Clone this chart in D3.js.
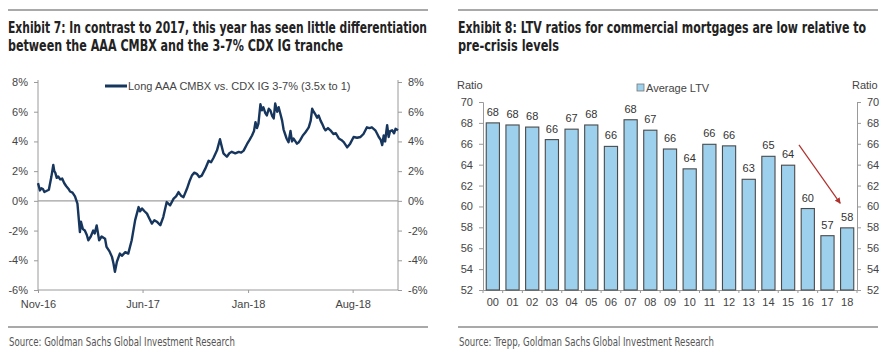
<!DOCTYPE html>
<html>
<head>
<meta charset="utf-8">
<script src="https://cdn.jsdelivr.net/npm/d3@7"></script>
<style>
  body { margin:0; background:#fff; }
  svg text { font-family: "Liberation Sans", Arial, sans-serif; }
  .ttl { font-family: "Liberation Sans Narrow", "DejaVu Sans Condensed", "Roboto", sans-serif !important; font-weight:bold; fill:#222; }
  .src { font-family: "Liberation Sans Narrow", "DejaVu Sans Condensed", "Roboto", sans-serif !important; fill:#555; }
</style>
</head>
<body>
<svg id="chart" width="890" height="352"></svg>
<script>
// ---- Exhibit 7 data: long AAA CMBX vs CDX IG 3-7% (cum. %)
const spreadDates = [
  "2016-11-01","2016-11-05","2016-11-08","2016-11-11","2016-11-14","2016-11-17","2016-11-23","2016-11-28","2016-12-02","2016-12-04",
  "2016-12-06","2016-12-09","2016-12-12","2016-12-16","2016-12-20","2016-12-24","2016-12-28","2017-01-02","2017-01-05","2017-01-10",
  "2017-01-15","2017-01-20","2017-01-25","2017-01-27","2017-01-31","2017-02-04","2017-02-08","2017-02-11","2017-02-16","2017-02-21",
  "2017-02-24","2017-02-28","2017-03-05","2017-03-10","2017-03-17","2017-03-20","2017-03-26","2017-03-31","2017-04-03","2017-04-06",
  "2017-04-10","2017-04-16","2017-04-20","2017-04-27","2017-05-03","2017-05-10","2017-05-17","2017-05-24","2017-05-27","2017-05-31",
  "2017-06-05","2017-06-10","2017-06-15","2017-06-20","2017-06-25","2017-06-30","2017-07-07","2017-07-13","2017-07-20","2017-07-27",
  "2017-08-03","2017-08-08","2017-08-13","2017-08-18","2017-08-23","2017-08-30","2017-09-04","2017-09-09","2017-09-14","2017-09-19",
  "2017-09-24","2017-09-29","2017-10-06","2017-10-13","2017-10-18","2017-10-23","2017-10-30","2017-11-05","2017-11-09","2017-11-12",
  "2017-11-19","2017-11-24","2017-11-29","2017-12-06","2017-12-13","2017-12-18","2017-12-23","2017-12-30","2018-01-04","2018-01-09",
  "2018-01-13","2018-01-16","2018-01-19","2018-01-22","2018-01-26","2018-01-29","2018-02-01","2018-02-05","2018-02-08","2018-02-12",
  "2018-02-15","2018-02-19","2018-02-22","2018-02-25","2018-03-01","2018-03-04","2018-03-08","2018-03-11","2018-03-14","2018-03-17",
  "2018-03-20","2018-03-24","2018-03-28","2018-03-31","2018-04-03","2018-04-07","2018-04-10","2018-04-14","2018-04-17","2018-04-22",
  "2018-04-27","2018-05-01","2018-05-04","2018-05-08","2018-05-11","2018-05-14","2018-05-17","2018-05-21","2018-05-24","2018-05-28",
  "2018-05-31","2018-06-04","2018-06-07","2018-06-12","2018-06-17","2018-06-23","2018-06-28","2018-07-04","2018-07-09","2018-07-14",
  "2018-07-21","2018-07-27","2018-08-03","2018-08-10","2018-08-17","2018-08-23","2018-08-30","2018-09-04","2018-09-09","2018-09-16",
  "2018-09-20","2018-09-23","2018-09-27","2018-09-30","2018-10-03","2018-10-06","2018-10-08","2018-10-10","2018-10-13","2018-10-16",
  "2018-10-20","2018-10-24","2018-10-27","2018-11-01"
];
const spreadValues = [
  1.19, 0.70, 0.85, 0.80, 0.60, 0.65, 0.75, 1.60, 2.42, 2.00,
  1.90, 1.55, 1.64, 1.45, 1.50, 1.20, 1.00, 0.80, 0.63, 0.55,
  0.30, -0.19, -2.10, -1.40, -1.90, -2.00, -2.30, -2.65, -2.40, -2.00,
  -2.20, -1.65, -2.65, -2.40, -2.55, -3.10, -3.40, -3.77, -4.20, -4.78,
  -4.10, -3.55, -3.70, -3.45, -3.55, -2.65, -1.30, -0.42, -0.70, -0.52,
  -0.70, -0.86, -1.20, -1.53, -1.30, -1.40, -1.64, -1.09, -0.08, -0.30,
  0.15, 0.30, 0.59, 0.35, 0.25, 0.81, 1.30, 1.70, 1.90, 1.82,
  1.60, 1.70, 2.15, 2.70, 2.60, 2.90, 3.40, 4.15, 3.60, 3.20,
  2.97, 3.20, 3.30, 3.20, 3.30, 3.25, 3.38, 3.83, 4.10, 4.40,
  4.70, 5.30, 4.90, 5.20, 6.50, 6.10, 6.30, 5.90, 5.75, 6.20,
  6.10, 5.70, 5.55, 6.55, 6.00, 6.30, 5.80, 5.40, 4.80, 4.50,
  4.20, 3.95, 4.70, 4.00, 4.20, 4.00, 3.85, 3.95, 4.10, 4.40,
  4.60, 4.80, 4.95, 5.40, 6.20, 6.00, 5.85, 5.60, 5.75, 5.40,
  5.20, 4.90, 4.75, 4.90, 4.75, 4.50, 4.55, 4.20, 4.10, 3.95,
  3.60, 3.85, 4.30, 4.25, 4.30, 4.50, 4.95, 4.90, 4.95, 4.75,
  4.50, 4.30, 4.10, 3.75, 4.40, 4.00, 4.60, 5.10, 4.30, 4.70,
  4.75, 4.55, 4.85, 4.75
];
const spreadTicks = ["2016-11-01","2017-06-01","2018-01-01","2018-08-01"];
const spreadYTicks = [-6, -4, -2, 0, 2, 4, 6, 8];
const spreadLegend = "Long AAA CMBX vs. CDX IG 3-7% (3.5x to 1)";

// ---- Exhibit 8 data: average LTV by origination year
const ltvYears = ["00","01","02","03","04","05","06","07","08","09","10","11","12","13","14","15","16","17","18"];
const ltvValues = [68.0, 67.8, 67.6, 66.4, 67.4, 67.8, 65.75, 68.3, 67.3, 65.5, 63.6, 65.95, 65.8, 62.6, 64.8, 63.95, 59.8, 57.2, 57.95];
const ltvYTicks = [52, 54, 56, 58, 60, 62, 64, 66, 68, 70];

const svg = d3.select("#chart");
const parse = d3.timeParse("%Y-%m-%d");
const axisCol = "#9a9a9a", labCol = "#444";

// frame rules + titles + sources (widths fitted to the narrow face of the original)
function panelFrame(x0, x1, lines, widths, source, srcW) {
  svg.append("line").attr("x1", x0).attr("x2", x1).attr("y1", 10).attr("y2", 10)
    .attr("stroke", "#8c8c8c").attr("stroke-width", 1.5);
  svg.append("line").attr("x1", x0).attr("x2", x1).attr("y1", 327).attr("y2", 327)
    .attr("stroke", "#8c8c8c").attr("stroke-width", 1.5);
  lines.forEach((l, i) => {
    svg.append("text").attr("class", "ttl").attr("x", x0).attr("y", 32.5 + i * 18.3)
      .attr("font-size", "15px").attr("textLength", widths[i]).attr("lengthAdjust", "spacingAndGlyphs").text(l);
  });
  svg.append("text").attr("class", "src").attr("x", x0 + 1).attr("y", 346)
    .attr("font-size", "12.5px").attr("textLength", srcW).attr("lengthAdjust", "spacingAndGlyphs").text(source);
}
panelFrame(8, 428, ["Exhibit 7: In contrast to 2017, this year has seen little differentiation",
  "between the AAA CMBX and the 3-7% CDX IG tranche"], [419, 335],
  "Source: Goldman Sachs Global Investment Research", 226);
panelFrame(458, 878, ["Exhibit 8: LTV ratios for commercial mortgages are low relative to",
  "pre-crisis levels"], [408, 101],
  "Source: Trepp, Goldman Sachs Global Investment Research", 255);

function styleAxis(g) {
  g.selectAll("path,line").attr("stroke", axisCol);
  g.selectAll("text").attr("fill", labCol).attr("font-size", "11px");
}

// ---------- Exhibit 7 line chart
{
  const L = 38, R = 398, T = 82, B = 290;
  const data = spreadDates.map((d, i) => ({ date: parse(d), v: spreadValues[i] }));
  const x = d3.scaleTime().domain([parse("2016-11-01"), parse("2018-11-01")]).range([L, R]);
  const y = d3.scaleLinear().domain([-6, 8]).range([B, T]);
  const fmt = v => v + "%";

  const gl = svg.append("g").attr("transform", `translate(${L},0)`)
    .call(d3.axisLeft(y).tickValues(spreadYTicks).tickFormat(fmt).tickSize(4).tickPadding(6));
  styleAxis(gl);
  gl.select(".domain").attr("d", `M0,${T - 2}V${B}`);
  const gr = svg.append("g").attr("transform", `translate(${R},0)`)
    .call(d3.axisRight(y).tickValues(spreadYTicks).tickFormat(fmt).tickSize(4).tickPadding(6));
  styleAxis(gr);
  gr.select(".domain").attr("d", `M0,${T - 2}V${B}`);
  const gb = svg.append("g").attr("transform", `translate(0,${B})`)
    .call(d3.axisBottom(x).tickValues(spreadTicks.map(parse)).tickFormat(d3.timeFormat("%b-%y")).tickSize(3).tickPadding(7));
  styleAxis(gb);
  gb.select(".domain").attr("d", `M${L},0H${R}`);

  svg.append("line").attr("x1", L).attr("x2", R).attr("y1", y(0)).attr("y2", y(0))
    .attr("stroke", "#a0a0a0").attr("stroke-width", 1.2);

  svg.append("path").datum(data)
    .attr("fill", "none").attr("stroke", "#17365d").attr("stroke-width", 2.4)
    .attr("stroke-linejoin", "round")
    .attr("d", d3.line().x(d => x(d.date)).y(d => y(d.v)));

  // legend
  svg.append("line").attr("x1", 105).attr("x2", 127).attr("y1", 86).attr("y2", 86)
    .attr("stroke", "#17365d").attr("stroke-width", 3);
  svg.append("text").attr("x", 128).attr("y", 90).attr("font-size", "11px").attr("fill", labCol).text(spreadLegend);
}

// ---------- Exhibit 8 bar chart
{
  const L = 483, R = 857, T = 102, B = 290;
  const x = d3.scaleBand().domain(ltvYears).range([L, R]).paddingInner(0.33).paddingOuter(0.165);
  const y = d3.scaleLinear().domain([52, 70]).range([B, T]);

  const gl = svg.append("g").attr("transform", `translate(${L},0)`)
    .call(d3.axisLeft(y).tickValues(ltvYTicks).tickSize(4).tickPadding(6));
  styleAxis(gl);
  const gr = svg.append("g").attr("transform", `translate(${R},0)`)
    .call(d3.axisRight(y).tickValues(ltvYTicks).tickSize(4).tickPadding(6));
  styleAxis(gr);
  const gb = svg.append("g").attr("transform", `translate(0,${B})`)
    .call(d3.axisBottom(x).tickSize(0).tickPadding(8));
  styleAxis(gb);
  // boundary ticks between categories
  const step = x.step();
  gb.selectAll("line.sep").data(d3.range(ltvYears.length + 1)).enter().append("line")
    .attr("x1", i => L + i * step).attr("x2", i => L + i * step).attr("y1", 0).attr("y2", 3)
    .attr("stroke", axisCol);

  svg.selectAll("rect.bar").data(ltvValues).enter().append("rect")
    .attr("x", (d, i) => x(ltvYears[i])).attr("width", x.bandwidth())
    .attr("y", d => y(d)).attr("height", d => B - y(d))
    .attr("fill", "#9dd0ec").attr("stroke", "#4a4a4a").attr("stroke-width", 1.1);

  svg.selectAll("text.val").data(ltvValues).enter().append("text")
    .attr("x", (d, i) => x(ltvYears[i]) + x.bandwidth() / 2).attr("y", d => y(d) - 7)
    .attr("text-anchor", "middle").attr("font-size", "11px").attr("fill", "#333")
    .text(d => Math.round(d));

  svg.append("text").attr("x", 457).attr("y", 89).attr("font-size", "11px").attr("fill", labCol).text("Ratio");
  svg.append("text").attr("x", 852).attr("y", 89).attr("font-size", "11px").attr("fill", labCol).text("Ratio");

  // legend
  svg.append("rect").attr("x", 637).attr("y", 84).attr("width", 7).attr("height", 7)
    .attr("fill", "#9dd0ec").attr("stroke", "#777").attr("stroke-width", 0.8);
  svg.append("text").attr("x", 646).attr("y", 92).attr("font-size", "11px").attr("fill", labCol).text("Average LTV");

  // red trend arrow, anchored in data space
  const px = (i, f) => x(ltvYears[i]) + x.bandwidth() / 2 + f * step;
  svg.append("defs").append("marker").attr("id", "ah").attr("viewBox", "0 0 10 10")
    .attr("refX", 9).attr("refY", 5).attr("markerWidth", 5).attr("markerHeight", 5).attr("orient", "auto")
    .append("path").attr("d", "M0,0L10,5L0,10z").attr("fill", "#b0302c");
  svg.append("line").attr("x1", px(15, 0.55)).attr("y1", y(65.9)).attr("x2", px(17, 0.65)).attr("y2", y(60.3))
    .attr("stroke", "#b0302c").attr("stroke-width", 1.2).attr("marker-end", "url(#ah)");
}
</script>
</body>
</html>
